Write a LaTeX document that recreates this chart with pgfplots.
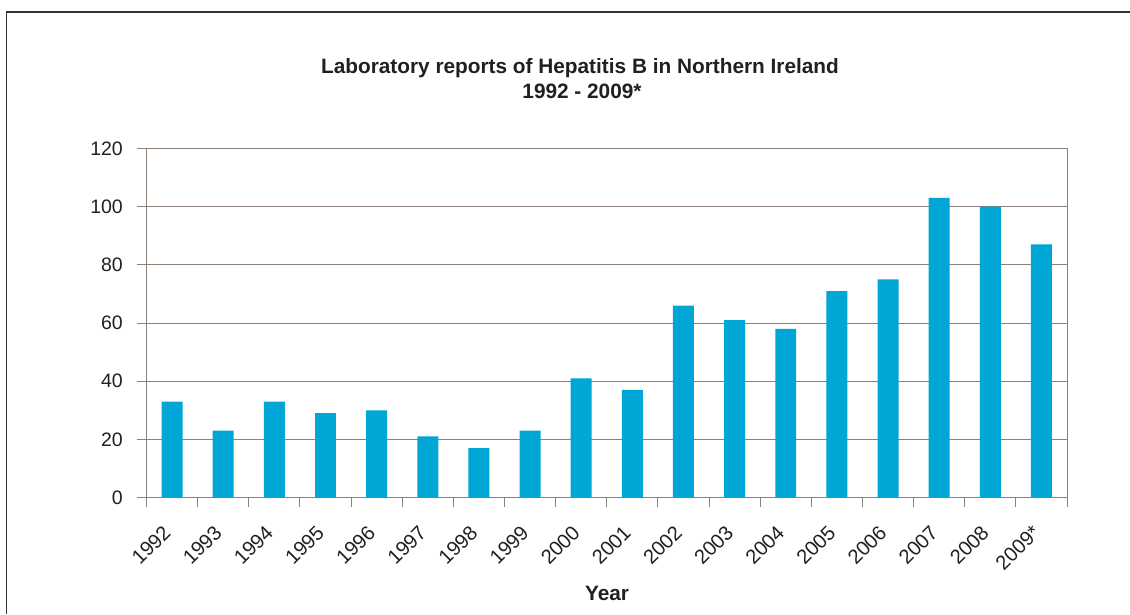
\documentclass[border=0pt]{standalone}
\usepackage{pgfplots}
\pgfplotsset{compat=1.18}
\usepackage{fontspec}
\setmainfont{Liberation Sans}
\definecolor{barc}{RGB}{0,166,214}
\definecolor{gridc}{RGB}{140,128,120}
\definecolor{txt}{RGB}{35,31,32}
\begin{document}
\begin{tikzpicture}[x=1pt,y=1pt]
\useasboundingbox (0,0) rectangle (1130,614);
\draw[line width=1.5pt, black!80] (6.5,0) -- (6.5,602) -- (1130,602);
\begin{axis}[
  at={(146.5pt,116.5pt)}, anchor=south west,
  width=920.5pt, height=349pt, scale only axis,
  xmin=-0.5, xmax=17.5, ymin=0, ymax=120,
  ytick={0,20,...,120},
  xtick={0,...,17},
  xticklabels={1992,1993,1994,1995,1996,1997,1998,1999,2000,2001,2002,2003,2004,2005,2006,2007,2008,2009*},
  minor xtick={-0.5,0.5,...,17.5},
  xtick pos=bottom, ytick pos=left,
  tick align=outside,
  major tick length=10pt,
  minor tick length=9pt,
  major x tick style={draw=none},
  tick style={gridc, line width=1pt},
  axis line style={gridc, line width=1pt},
  ymajorgrids, grid style={gridc, line width=1pt},
  xminorgrids=false,
  /pgf/number format/assume math mode=true,
  ticklabel style={font=\fontsize{19.5}{23}\selectfont, text=txt},
  yticklabel style={anchor=east, inner sep=0pt},
  yticklabel shift=13.5pt,
  xticklabel style={rotate=45, anchor=base east, inner sep=0pt, font=\fontsize{20.2}{24}\selectfont},
  xticklabel shift=26.5pt,
  ybar, bar width=0.41,
]
\addplot[fill=barc, draw=none] coordinates {
(0,33) (1,23) (2,33) (3,29) (4,30) (5,21) (6,17) (7,23) (8,41)
(9,37) (10,66) (11,61) (12,58) (13,71) (14,75) (15,103) (16,100) (17,87)
};
\end{axis}
\node[anchor=base, font=\bfseries\fontsize{20.8}{25}\selectfont, text=txt] at (580,540) {Laboratory reports of Hepatitis B in Northern Ireland};
\node[anchor=base, font=\bfseries\fontsize{20.8}{25}\selectfont, text=txt] at (582,515) {1992 - 2009*};
\node[anchor=base, font=\bfseries\fontsize{20.8}{25}\selectfont, text=txt] at (607,14) {Year};
\end{tikzpicture}
\end{document}
